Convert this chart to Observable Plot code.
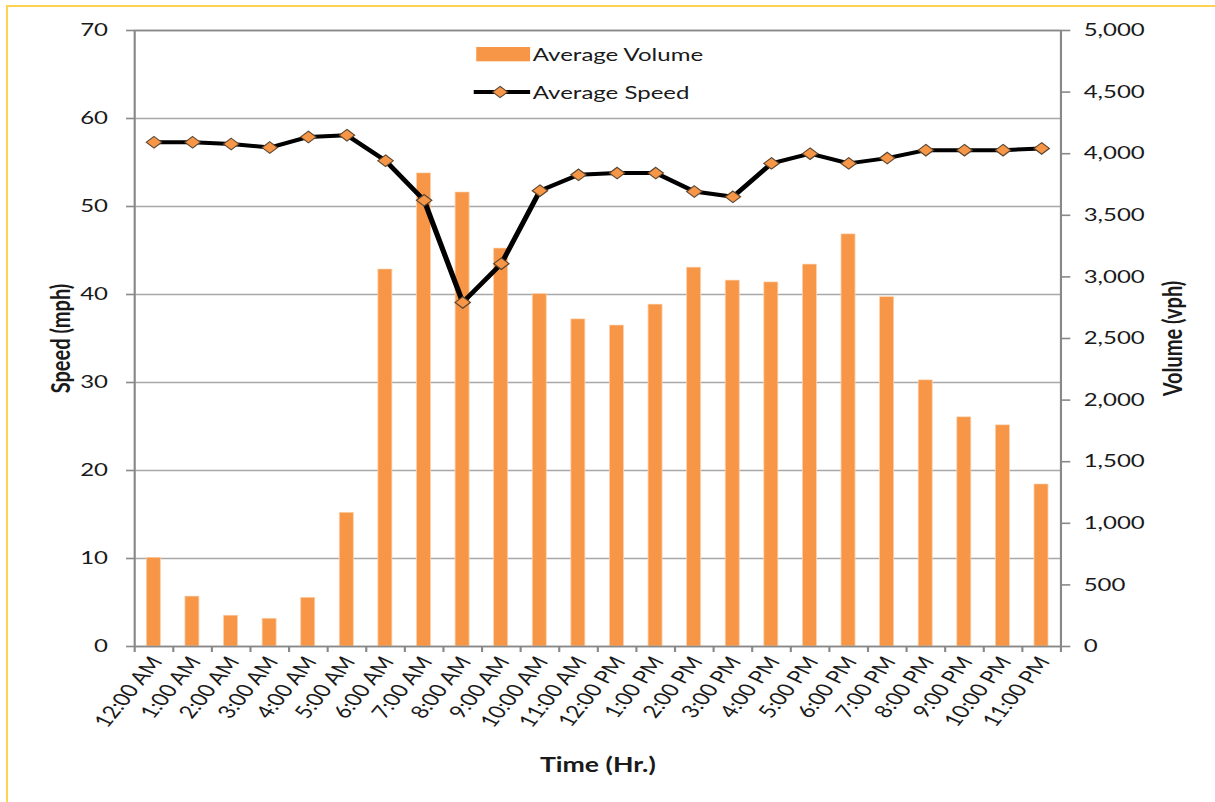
<!DOCTYPE html>
<html><head><meta charset="utf-8">
<script src="https://cdn.jsdelivr.net/npm/d3@7"></script>
<script src="https://cdn.jsdelivr.net/npm/@observablehq/plot@0.6"></script>
<style>
html,body{margin:0;padding:0;background:#fff;}
#page{position:relative;width:1215px;height:802px;overflow:hidden;background:#fff;}
#border{position:absolute;left:6px;top:5px;width:1300px;height:900px;border-left:2px solid #FFD24F;border-top:2px solid #FFD24F;box-sizing:border-box;}
#stage{position:absolute;left:0;top:0;width:911px;height:802px;transform:scaleX(1.3337);transform-origin:0 0;font-family:Lato,sans-serif;}
.lg{position:absolute;display:flex;align-items:center;height:22px;font-size:18px;color:#1a1a1a;font-family:Lato,sans-serif;}
.lg span{margin-left:2px;}
</style>
</head><body>
<div id="page"><div id="border"></div><div id="stage"></div></div>
<script>
// ---- data ----
const hours = ["12:00 AM","1:00 AM","2:00 AM","3:00 AM","4:00 AM","5:00 AM","6:00 AM","7:00 AM","8:00 AM","9:00 AM","10:00 AM","11:00 AM",
               "12:00 PM","1:00 PM","2:00 PM","3:00 PM","4:00 PM","5:00 PM","6:00 PM","7:00 PM","8:00 PM","9:00 PM","10:00 PM","11:00 PM"];
const avgVolume = [720,405,250,225,395,1085,3060,3840,3685,3230,2860,2655,2605,2775,3075,2970,2955,3100,3345,2835,2160,1860,1795,1315];
const avgSpeed = [57.3,57.3,57.1,56.7,57.9,58.1,55.2,50.7,39.1,43.5,51.8,53.6,53.8,53.8,51.7,51.1,54.9,56.0,54.9,55.5,56.4,56.4,56.4,56.6];
const speedTicks = [0,10,20,30,40,50,60,70];
const volumeTicks = [0,500,1000,1500,2000,2500,3000,3500,4000,4500,5000];
const speedMax = 70, volumeMax = 5000;
const legendLabels = ["Average Volume","Average Speed"];
const axisTitles = {x: "Time (Hr.)", left: "Speed (mph)", right: "Volume (vph)"};

const data = hours.map((h,i) => ({hour: h, volume: avgVolume[i], speed: avgSpeed[i]}));
const toLeft = v => v * speedMax / volumeMax;

const ORANGE = "#F79646", AXIS = "#888888", GRID = "#a8a8a8", TXT = "#1a1a1a";
const W = 911, ML = 100.5, MR = 116, MT = 30, MB = 156, H = 802;
const step = (W - ML - MR) / hours.length;
const barInset = (step - 10.5) / 2;

const chart = Plot.plot({
  width: W, height: H,
  marginLeft: ML, marginRight: MR, marginTop: MT, marginBottom: MB,
  style: {fontFamily: "Lato, sans-serif", background: "transparent", overflow: "visible", color: TXT},
  x: {type: "band", domain: hours, padding: 0, round: false},
  y: {domain: [0, speedMax]},
  marks: [
    Plot.gridY(speedTicks, {stroke: GRID, strokeOpacity: 1, strokeWidth: 1.6}),
    Plot.barY(data, {x: "hour", y: d => toLeft(d.volume), fill: ORANGE, stroke: "#fbd0ac", strokeWidth: 0.6, insetLeft: barInset, insetRight: barInset}),
    Plot.frame({stroke: AXIS, strokeWidth: 1.6}),
    Plot.lineY(data, {x: "hour", y: "speed", stroke: "#000", strokeWidth: 4, curve: "linear"}),
    Plot.dot(data, {x: "hour", y: "speed", symbol: "diamond2", r: 5.2, fill: ORANGE, stroke: "#5a4632", strokeWidth: 1}),
    Plot.axisY(speedTicks, {anchor: "left", tickSize: 6, tickPadding: 14, stroke: AXIS, strokeWidth: 1.6, fill: TXT, fontSize: 18, label: null}),
    Plot.axisY(volumeTicks.map(toLeft), {anchor: "right", tickSize: 6.5, tickPadding: 10.5, stroke: AXIS, strokeWidth: 1.6, fill: TXT, fontSize: 18, label: null,
      tickFormat: d => d3.format(",")(Math.round(d * volumeMax / speedMax))}),
    Plot.axisX({tickSize: 6, text: null, dx: -step/2, stroke: AXIS, strokeWidth: 1.6, label: null}),
    Plot.axisX([hours[hours.length-1]], {tickSize: 6, text: null, dx: step/2, stroke: AXIS, strokeWidth: 1.6, label: null}),
    Plot.axisX({tickSize: 0, tickRotate: -58, tickPadding: 12, dx: 2, fill: TXT, fontSize: 18, label: null}),
    Plot.text([axisTitles.left], {frameAnchor: "left", textAnchor: "middle", dx: -55, rotate: -90, fontSize: 20, fontWeight: "bold", fill: TXT}),
    Plot.text([axisTitles.right], {frameAnchor: "right", textAnchor: "middle", dx: 84, rotate: -90, fontSize: 20, fontWeight: "bold", fill: TXT}),
    Plot.text([axisTitles.x], {frameAnchor: "bottom", textAnchor: "middle", dy: 125, fontSize: 20, fontWeight: "bold", fill: TXT})
  ]
});
const stage = document.getElementById("stage");
stage.appendChild(chart);

// legend (HTML overlay inside plot area)
const lg1 = document.createElement("div");
lg1.className = "lg"; lg1.style.left = "357px"; lg1.style.top = "43px";
lg1.innerHTML = `<svg width="40.5" height="15"><rect x="0" y="0" width="40.5" height="14.3" fill="${ORANGE}"/></svg><span>${legendLabels[0]}</span>`;
const lg2 = document.createElement("div");
lg2.className = "lg"; lg2.style.left = "355px"; lg2.style.top = "81px";
lg2.innerHTML = `<svg width="42.5" height="20"><line x1="0" x2="42.5" y1="10" y2="10" stroke="#000" stroke-width="4"/><path d="M20,4.4 L25.6,10 L20,15.6 L14.4,10 Z" fill="${ORANGE}" stroke="#5a4632" stroke-width="1"/></svg><span>${legendLabels[1]}</span>`;
stage.appendChild(lg1); stage.appendChild(lg2);
</script>
</body></html>
